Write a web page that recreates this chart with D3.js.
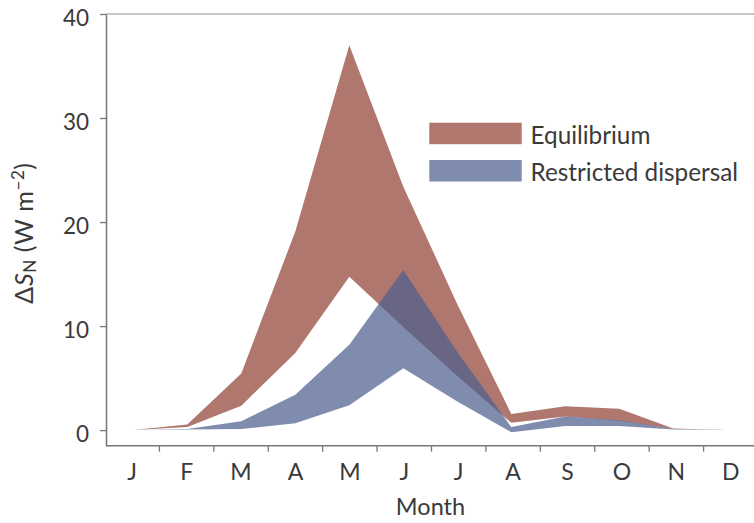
<!DOCTYPE html>
<html>
<head>
<meta charset="utf-8">
<script src="https://cdn.jsdelivr.net/npm/d3@7"></script>
<style>
  html, body { margin: 0; padding: 0; background: #fff; }
  svg text { font-family: Lato, "Open Sans", sans-serif; fill: #3a3a3a; }
</style>
</head>
<body>
<svg id="chart" width="754" height="523"></svg>
<script>
// ---- data ----
const months = ["J","F","M","A","M","J","J","A","S","O","N","D"];
const eqUpper = [0, 0.55, 5.45, 19.1, 37.0, 23.4, 12.1, 1.55, 2.3, 2.05, 0.15, 0];
const eqLower = [0, 0.3, 2.35, 7.4, 14.75, 9.9, 5.2, 0.7, 1.3, 0.9, 0.1, 0];
const rdUpper = [0, 0.1, 0.85, 3.4, 8.2, 15.4, 7.5, 0.3, 1.3, 0.95, 0.1, 0];
const rdLower = [0, 0.05, 0.1, 0.65, 2.4, 5.95, 2.75, -0.2, 0.4, 0.4, 0.05, 0];
const yTicks = [0, 10, 20, 30, 40];
const seriesNames = ["Equilibrium", "Restricted dispersal"];

const svg = d3.select("#chart");
const pLeft = 106, pRight = 754, pTop = 14, pBottom = 445.7;

const xBand = d3.scaleBand().domain(d3.range(12)).range([105, 758]).paddingInner(0).paddingOuter(0);
const xPt = d3.scalePoint().domain(d3.range(12)).range([133.3, 727.3]);
const y = d3.scaleLinear().domain([-1.5, 40]).range([pBottom, pTop]);

const red = "#b0776f";
const blue = "#4d5f8d";
const blueOpacity = 0.72;

const idx = d3.range(12);
const area = (lo, hi) => d3.area()
  .x(i => xPt(i))
  .y0(i => y(lo[i]))
  .y1(i => y(hi[i]))(idx);

svg.append("path").attr("d", area(eqLower, eqUpper)).attr("fill", red);
svg.append("path").attr("d", area(rdLower, rdUpper)).attr("fill", blue).attr("fill-opacity", blueOpacity);

// top frame line
svg.append("line").attr("x1", pLeft).attr("x2", pRight).attr("y1", pTop).attr("y2", pTop)
  .attr("stroke", "#b5b5b5").attr("stroke-width", 1.3);

// y axis
const yAxis = d3.axisLeft(y).tickValues(yTicks).tickSize(6).tickPadding(11).tickSizeOuter(0);
const gy = svg.append("g").attr("transform", `translate(${pLeft},0)`).call(yAxis);
gy.select(".domain").attr("stroke", "#777").attr("stroke-width", 1.5);
gy.selectAll(".tick line").attr("stroke", "#777").attr("stroke-width", 1.3);
gy.selectAll(".tick text").attr("font-size", 22.5).attr("dy", "0.5em").style("font-family", "Lato, sans-serif").attr("fill", "#3a3a3a");

// x axis
const xAxis = d3.axisBottom(xBand).tickFormat(i => months[i]).tickSize(0).tickPadding(0).tickSizeOuter(0);
const gx = svg.append("g").attr("transform", `translate(0,${pBottom})`).call(xAxis);
gx.select(".domain").attr("d", `M${pLeft},0H${pRight}`).attr("stroke", "#777").attr("stroke-width", 1.5);
gx.selectAll(".tick text").attr("font-size", 23).attr("dy", null).attr("y", 34.5)
  .style("font-family", "Lato, sans-serif").attr("fill", "#3a3a3a");
gx.selectAll(".bt").data(d3.range(1, 12)).enter().append("line")
  .attr("x1", i => xBand(i)).attr("x2", i => xBand(i))
  .attr("y1", 0).attr("y2", 6).attr("stroke", "#777").attr("stroke-width", 1.3);

// axis titles
svg.append("text").attr("x", 430.5).attr("y", 515).attr("text-anchor", "middle")
  .attr("font-size", 23.5).text("Month");

const yl = svg.append("text").attr("transform", "translate(33,233) rotate(-90)")
  .attr("text-anchor", "middle").attr("font-size", 25).attr("letter-spacing", 0.6);
yl.append("tspan").text("Δ");
yl.append("tspan").attr("font-style", "italic").text("S");
yl.append("tspan").attr("font-size", 17).attr("dy", 3).text("N");
yl.append("tspan").attr("dy", -3).text(" (W m");
yl.append("tspan").attr("font-size", 17).attr("dy", -9).text("−2");
yl.append("tspan").attr("dy", 9).text(")");

// legend
const lg = svg.append("g");
const legendY = [122.7, 160];
lg.selectAll("rect").data(seriesNames).enter().append("rect")
  .attr("x", 429.3).attr("y", (d, i) => legendY[i]).attr("width", 92.4).attr("height", 21.5)
  .attr("fill", (d, i) => i === 0 ? red : blue)
  .attr("fill-opacity", (d, i) => i === 0 ? 1 : blueOpacity);
lg.selectAll("text").data(seriesNames).enter().append("text")
  .attr("x", 530.5).attr("y", (d, i) => legendY[i] + 21)
  .attr("font-size", 24.3).text(d => d);
</script>
</body>
</html>
